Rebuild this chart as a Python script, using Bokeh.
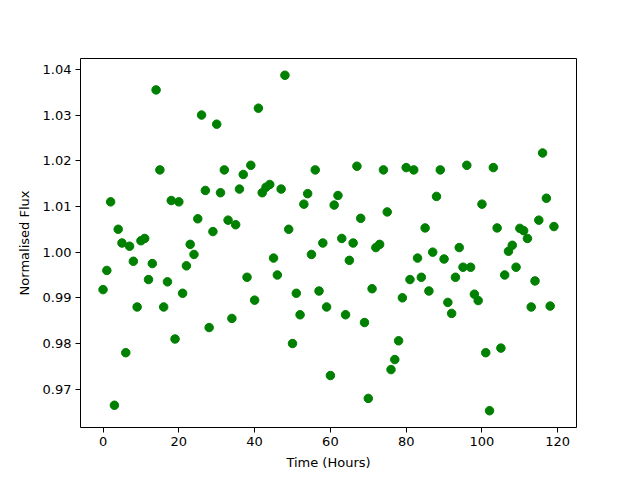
from bokeh.plotting import figure
from bokeh.models import Range1d, FixedTicker
from bokeh.embed import file_html
from bokeh.resources import INLINE

hours = list(range(120))
flux = [
    0.9918, 0.9960, 1.0110, 0.9665, 1.0050, 1.0020, 0.9780, 1.0013, 0.9980, 0.9880,
    1.0025, 1.0030, 0.9940, 0.9975, 1.0355, 1.0180, 0.9880, 0.9935, 1.0113, 0.9810,
    1.0110, 0.9910, 0.9970, 1.0017, 0.9995, 1.0073, 1.0300, 1.0135, 0.9835, 1.0045,
    1.0280, 1.0130, 1.0180, 1.0070, 0.9855, 1.0060, 1.0138, 1.0170, 0.9945, 1.0190,
    0.9895, 1.0315, 1.0130, 1.0142, 1.0148, 0.9987, 0.9950, 1.0138, 1.0387, 1.0050,
    0.9800, 0.9910, 0.9863, 1.0105, 1.0128, 0.9995, 1.0180, 0.9915, 1.0020, 0.9880,
    0.9730, 1.0103, 1.0124, 1.0030, 0.9863, 0.9982, 1.0020, 1.0188, 1.0074, 0.9846,
    0.9680, 0.9920, 1.0010, 1.0017, 1.0180, 1.0088, 0.9743, 0.9765, 0.9806, 0.9900,
    1.0185, 0.9940, 1.0180, 0.9987, 0.9945, 1.0053, 0.9915, 1.0000, 1.0122, 1.0180,
    0.9985, 0.9890, 0.9866, 0.9945, 1.0010, 0.9967, 1.0190, 0.9967, 0.9908, 0.9894,
    1.0105, 0.9780, 0.9653, 1.0185, 1.0053, 0.9790, 0.9950, 1.0002, 1.0015, 0.9967,
    1.0052, 1.0047, 1.0030, 0.9880, 0.9937, 1.0070, 1.0217, 1.0118, 0.9882, 1.0056,
]
x_ticks = [0, 20, 40, 60, 80, 100, 120]
y_ticks = [0.97, 0.98, 0.99, 1.00, 1.01, 1.02, 1.03, 1.04]

xmin, xmax = min(hours), max(hours)
ymin, ymax = min(flux), max(flux)
xpad = 0.05 * (xmax - xmin)
ypad = 0.05 * (ymax - ymin)

p = figure(width=632, height=472, output_backend="svg", toolbar_location=None,
           x_range=Range1d(xmin - xpad, xmax + xpad),
           y_range=Range1d(ymin - ypad, ymax + ypad),
           min_border_left=80, min_border_right=56, min_border_top=58, min_border_bottom=45)

p.scatter(hours, flux, size=8.5, color="#008000", line_color="#008000")

p.xgrid.visible = False
p.ygrid.visible = False
p.outline_line_color = "black"
p.outline_line_width = 1
p.outline_line_alpha = 1.0

for ax in (p.xaxis[0], p.yaxis[0]):
    ax.axis_line_color = None
    ax.minor_tick_line_color = None
    ax.major_tick_out = 5
    ax.major_tick_in = 0
    ax.major_tick_line_color = "black"
    ax.major_label_text_font = "DejaVu Sans"
    ax.major_label_text_font_size = "13px"
    ax.major_label_text_color = "black"
    ax.axis_label_text_font = "DejaVu Sans"
    ax.axis_label_text_font_size = "13px"
    ax.axis_label_text_font_style = "normal"
    ax.axis_label_text_color = "black"

p.xaxis[0].ticker = FixedTicker(ticks=x_ticks)
p.yaxis[0].ticker = FixedTicker(ticks=y_ticks)
p.yaxis[0].major_label_overrides = {t: f"{t:.2f}" for t in y_ticks}
p.xaxis[0].axis_label = "Time (Hours)"
p.yaxis[0].axis_label = "Normalised Flux"
p.xaxis[0].axis_label_standoff = 6
p.yaxis[0].axis_label_standoff = 8
p.yaxis[0].major_label_standoff = 4
p.xaxis[0].major_label_standoff = 4

open("out.html", "w").write(file_html(p, INLINE))
